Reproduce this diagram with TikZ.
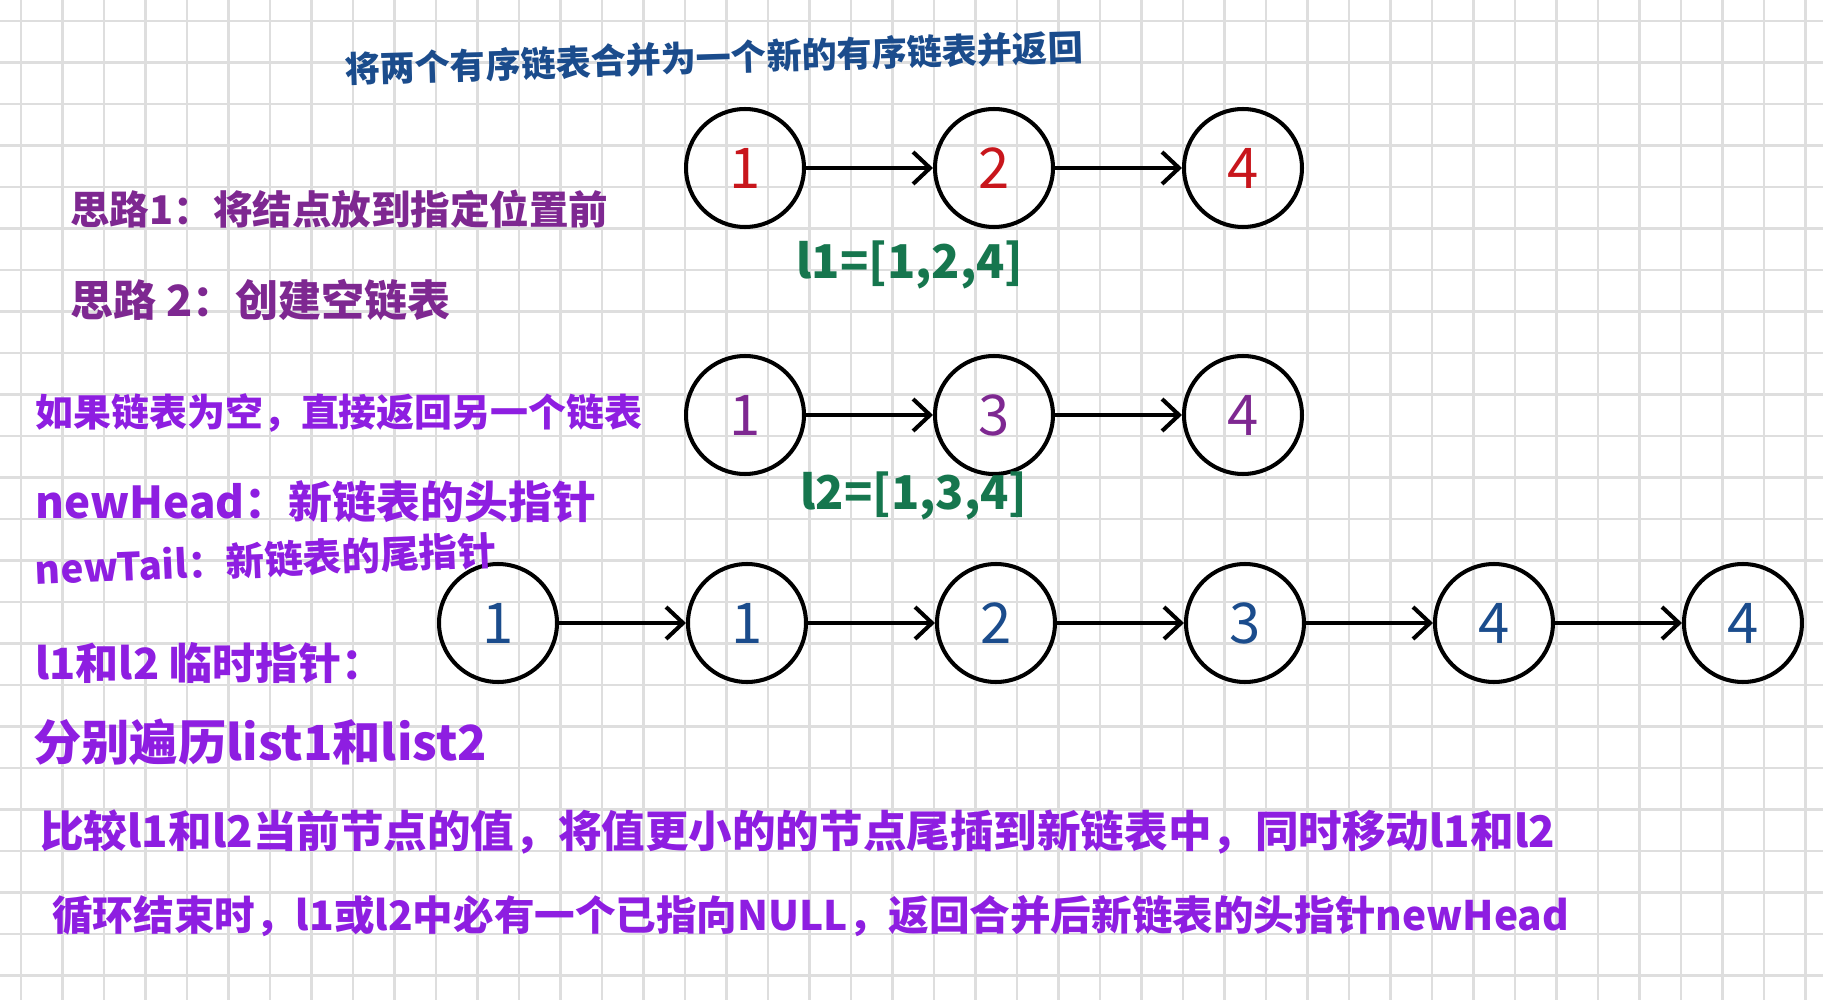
\documentclass[tikz,border=0pt]{standalone}
\usepackage{fontspec}
\newfontfamily\cjk{Noto Sans CJK SC}
\usetikzlibrary{arrows.meta,positioning}

\definecolor{inkblue}{RGB}{27,76,140}
\definecolor{inkplum}{RGB}{126,40,145}
\definecolor{inkviolet}{RGB}{142,30,225}
\definecolor{inkgreen}{RGB}{22,118,78}
\definecolor{inkred}{RGB}{200,22,28}
\definecolor{gridgray}{RGB}{222,222,222}
\newcommand{\handsize}[1]{\cjk\bfseries\fontsize{#1}{#1}\selectfont}

\begin{document}
\begin{tikzpicture}[
  x=0.02cm, y=-0.02cm,
  every node/.style={font=\cjk},
  gridline/.style={draw=gridgray,line width=1.2pt},
  elem/.style={circle,draw,line width=2.3pt,minimum size=2.36cm,inner sep=0pt,font=\cjk\fontsize{32}{32}\selectfont},
  link/.style={line width=2.3pt,-{Straight Barb[length=3.4mm,width=6.4mm]}},
  idea/.style={anchor=west,inner sep=0pt,text=inkplum,font=\handsize{23}},
  note/.style={anchor=west,inner sep=0pt,text=inkviolet,font=\handsize{24}},
  lst/.style={anchor=west,inner sep=0pt,text=inkgreen,font=\handsize{26.5}}
]
% paper
\fill[white] (0,0) rectangle (1823,1000);
\useasboundingbox (0,0) rectangle (1823,1000);
\foreach \k in {0,...,43} \draw[gridline] ({21+41.5*\k},0) -- ({21+41.5*\k},1000);
\foreach \k in {0,...,23} \draw[gridline] (0,{21+41.5*\k}) -- (1823,{21+41.5*\k});

\node[font=\handsize{20},text=inkblue,rotate=1.7] (title) at (714,58) {将两个有序链表合并为一个新的有序链表并返回};

% list1
\node[elem,text=inkred] (a1) at (745,168) {1};
\node[elem,text=inkred,right=2.54cm of a1] (a2) {2};
\node[elem,text=inkred,right=2.54cm of a2] (a3) {4};
\draw[link] (a1) -- (a2);
\draw[link] (a2) -- (a3);
\node[lst] (l1) at (796,265) {l1=[1,2,4]};

% list2
\node[elem,text=inkplum] (b1) at (745,415) {1};
\node[elem,text=inkplum,right=2.54cm of b1] (b2) {3};
\node[elem,text=inkplum,right=2.54cm of b2] (b3) {4};
\draw[link] (b1) -- (b2);
\draw[link] (b2) -- (b3);
\node[lst] (l2) at (800,496) {l2=[1,3,4]};

% merged list
\node[elem,text=inkblue] (m1) at (498,623) {1};
\node[elem,text=inkblue,right=2.54cm of m1] (m2) {1};
\node[elem,text=inkblue,right=2.54cm of m2] (m3) {2};
\node[elem,text=inkblue,right=2.54cm of m3] (m4) {3};
\node[elem,text=inkblue,right=2.54cm of m4] (m5) {4};
\node[elem,text=inkblue,right=2.54cm of m5] (m6) {4};
\foreach \i/\j in {m1/m2,m2/m3,m3/m4,m4/m5,m5/m6}
  \draw[link] (\i) -- (\j);

% notes
\node[idea,font=\handsize{22.5}] (idea1) at (70,209) {思路1：将结点放到指定位置前};
\node[idea,font=\handsize{24.5}] (idea2) at (70,300) {思路 2：创建空链表};
\node[note,font=\handsize{21.6}] (empty) at (35,413) {如果链表为空，直接返回另一个链表};
\node[note,font=\handsize{25}] (head) at (35,502) {newHead：新链表的头指针};
\node[note,font=\handsize{22},rotate=2.5] (tail) at (35,570) {newTail：新链表的尾指针};
\node[note,font=\handsize{24.5}] (temp) at (35,663) {l1和l2 临时指针：};
\node[note,font=\handsize{27.5}] (walk) at (33,742) {分别遍历list1和list2};
\node[note,font=\handsize{24.8}] (cmp) at (40,832) {比较l1和l2当前节点的值，将值更小的的节点尾插到新链表中，同时移动l1和l2};
\node[note,font=\handsize{23.1}] (loop) at (52,916) {循环结束时，l1或l2中必有一个已指向NULL，返回合并后新链表的头指针newHead};
\end{tikzpicture}
\end{document}
